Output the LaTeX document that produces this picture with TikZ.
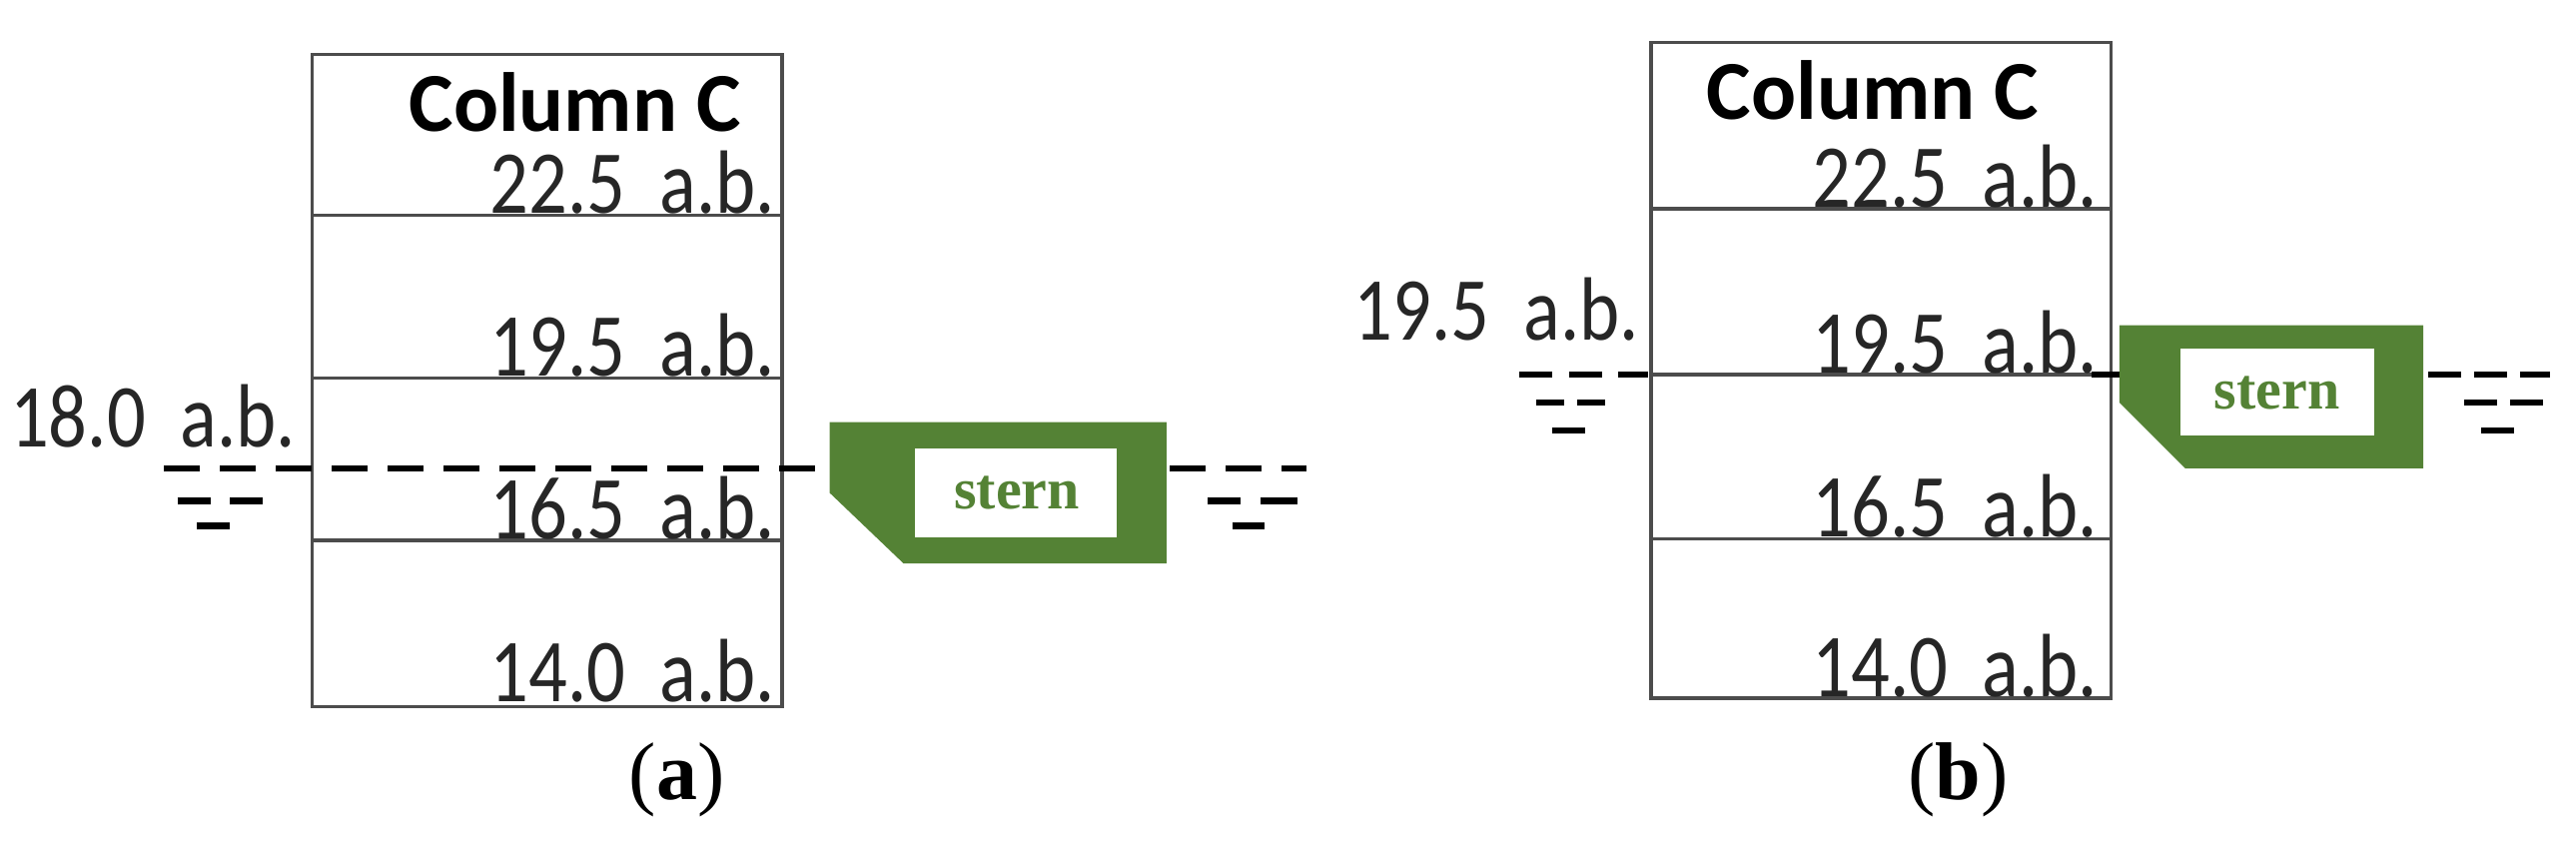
\documentclass[tikz,border=0pt]{standalone}
\usepackage{fontspec}
\setmainfont{Carlito}
\newfontfamily\serifr{Liberation Serif}
\definecolor{hull}{RGB}{84,130,53}
\tikzset{
  col/.style={draw=gray!60!black, line width=3.3pt},
  lvl/.style={anchor=base east, inner sep=0pt, font=\fontsize{90}{95}\selectfont, text=black!85},
  wl/.style={line width=6.5pt, dash pattern=on 36pt off 20pt},
  sd/.style={line width=6.5pt},
  ttl/.style={font=\bfseries\fontsize{84}{90}\selectfont, inner sep=0pt},
  figcap/.style={font=\serifr\fontsize{82}{86}\selectfont, inner sep=0pt},
  sternlbl/.style={font=\serifr\bfseries\fontsize{58}{62}\selectfont, text=hull, inner sep=0pt}
}
\newcommand{\ab}[1]{\scalebox{0.85}[1]{#1\ \ a.b.}}
\begin{document}
\begin{tikzpicture}[x=1.645pt,y=-1.645pt]
\useasboundingbox (0,0) rectangle (1568,514);
% ---------- (a)
\draw[col] (190,33) rectangle (476,430);
\draw[col] (190,131) -- (476,131) (190,230) -- (476,230) (190,329) -- (476,329);
\node[ttl] (ta) at (350,62) {Column C};
\node[lvl] (a1) at (472,130) {\ab{22.5}};
\node[lvl] (a2) at (472,229) {\ab{19.5}};
\node[lvl] (a3) at (472,328) {\ab{16.5}};
\node[lvl] (a4) at (472,427) {\ab{14.0}};
\node[lvl] (al) at (180,272) {\ab{18.0}};
\draw[wl] (100,285) -- (505,285);
\draw[wl] (712,285) -- (795,285);
\draw[sd] (108,305) -- (128,305) (140,305) -- (160,305) (120,320) -- (140,320);
\draw[sd] (735,305) -- (755,305) (767,305) -- (790,305) (750,320) -- (770,320);
\fill[hull] (505,257) -- (710,257) -- (710,343) -- (550,343) -- (505,300) -- cycle;
\fill[white] (557,273) rectangle (680,327);
\node[sternlbl] (sa) at (619,300) {stern};
\node[figcap] (ca) at (412,475) {(\textbf{a})};
% ---------- (b)
\draw[col] (1005,26) rectangle (1285,425);
\draw[col] (1005,127) -- (1285,127) (1005,228) -- (1285,228) (1005,328) -- (1285,328);
\node[ttl] (tb) at (1140,55) {Column C};
\node[lvl] (b1) at (1277,126) {\ab{22.5}};
\node[lvl] (b2) at (1277,227) {\ab{19.5}};
\node[lvl] (b3) at (1277,327) {\ab{16.5}};
\node[lvl] (b4) at (1277,424) {\ab{14.0}};
\node[lvl] (bl) at (998,207) {\ab{19.5}};
\draw[sd] (925,228) -- (945,228) (955,228) -- (975,228) (985,228) -- (1003,228);
\draw[sd] (1273,228) -- (1290,228);
\draw[sd] (1478,228) -- (1498,228) (1506,228) -- (1526,228) (1534,228) -- (1552,228);
\draw[sd] (935,245) -- (952,245) (960,245) -- (977,245) (945,262) -- (965,262);
\draw[sd] (1500,245) -- (1520,245) (1528,245) -- (1548,245) (1510,262) -- (1530,262);
\fill[hull] (1290,198) -- (1475,198) -- (1475,285) -- (1330,285) -- (1290,245) -- cycle;
\fill[white] (1327,212) rectangle (1445,265);
\node[sternlbl] (sb) at (1386,239) {stern};
\node[figcap] (cb) at (1192,475) {(\textbf{b})};
\end{tikzpicture}
\end{document}
